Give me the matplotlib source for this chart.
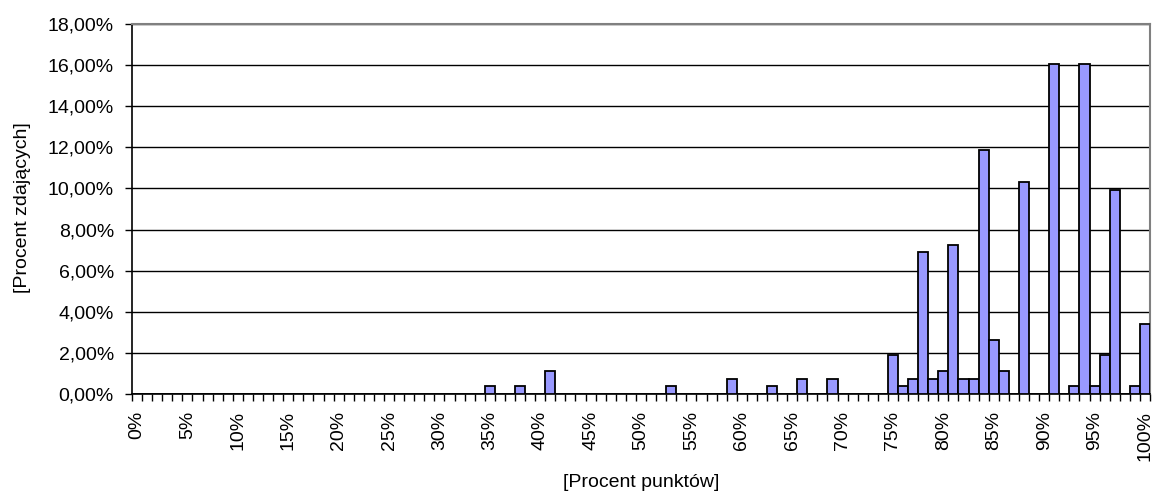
import matplotlib
matplotlib.use("Agg")
import matplotlib.pyplot as plt
from matplotlib.ticker import FixedLocator, FuncFormatter

plt.rcParams["font.family"] = ["Liberation Sans", "DejaVu Sans"]

# percent of points (category) -> percent of examinees
scores = [35, 38, 41, 53, 59, 63, 66, 69, 75, 76, 77, 78, 79, 80, 81, 82, 83, 84,
          85, 86, 88, 91, 93, 94, 95, 96, 97, 99, 100]
shares = [0.37, 0.37, 1.10, 0.37, 0.75, 0.37, 0.75, 0.75, 1.90, 0.37, 0.75, 6.90,
          0.75, 1.10, 7.25, 0.75, 0.75, 11.85, 2.65, 1.10, 10.30, 16.05, 0.37,
          16.05, 0.37, 1.90, 9.90, 0.37, 3.40]
categories = [f"{i}%" for i in range(101)]

values = [0.0] * len(categories)
for s, v in zip(scores, shares):
    values[s] = v

W, H = 1154, 498
fig = plt.figure(figsize=(W / 100, H / 100), dpi=100)
ax = fig.add_axes([132 / W, 1 - 394 / H, (1150 - 132) / W, (394 - 24) / H])

ax.set_axisbelow(True)
ax.yaxis.grid(True, color="black", linewidth=1.0)
ax.bar(range(len(categories)), values, width=1.0, color="#9999FF",
       edgecolor="black", linewidth=1.3, zorder=3)

ax.set_xlim(-0.5, len(categories) - 0.5)
ax.set_ylim(0, 18)
ax.set_yticks(range(0, 19, 2))
ax.yaxis.set_major_formatter(FuncFormatter(lambda v, p: f"{v:.2f}%".replace(".", ",")))

ax.set_xticks(range(0, 101, 5))
ax.set_xticklabels(categories[::5], rotation=90)
ax.xaxis.set_minor_locator(FixedLocator([k - 0.5 for k in range(102)]))
ax.tick_params(axis="x", which="major", length=0, pad=12, labelsize=14)
ax.tick_params(axis="x", which="minor", length=5, width=1, color="black")
ax.tick_params(axis="y", which="major", length=5, width=1, pad=8, labelsize=14)

for side in ("top", "right"):
    ax.spines[side].set_color("#808080")
    ax.spines[side].set_linewidth(1.5)
for side in ("left", "bottom"):
    ax.spines[side].set_color("black")
    ax.spines[side].set_linewidth(1.2)

fig.text(23 / W, 1 - 208 / H, "[Procent zdających]", rotation=90,
         ha="center", va="center", fontsize=14)
fig.text(641 / W, 1 - 482 / H, "[Procent punktów]",
         ha="center", va="center", fontsize=14)

fig.savefig("out.png", dpi=100)
